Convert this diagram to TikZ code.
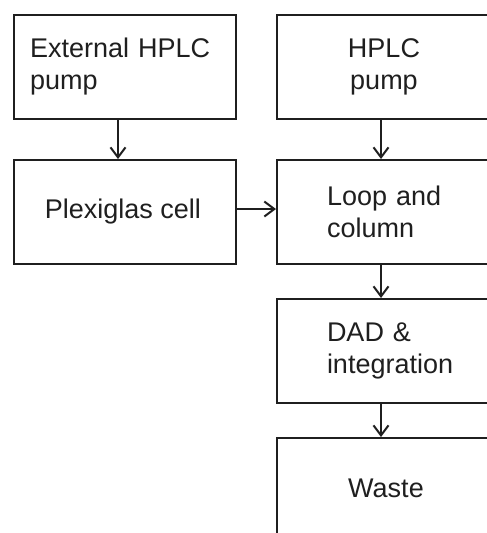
\documentclass[tikz,border=0pt]{standalone}
\usepackage{fontspec}
\setmainfont{Liberation Sans}
\usetikzlibrary{arrows.meta}
\begin{document}
\begin{tikzpicture}[x=1pt,y=-1pt,
  box/.style={draw=black!88, line width=2pt, minimum width=222pt, minimum height=104pt,
    inner sep=0pt, font=\fontsize{27}{32}\selectfont, text=black!88, anchor=north west},
  flow/.style={draw=black!88, line width=2pt, -{Straight Barb[length=10pt,width=15pt,line width=2pt]}}]
\clip (0,0) rectangle (487,533);
\fill[white] (0,0) rectangle (487,533);
\node[box, align=left, text width=190pt] (A) at (13,14) {External HPLC\\pump};
\node[box, align=center] (B) at (276,14) {\hspace*{-8pt}HPLC\\\hspace*{-8pt}pump};
\node[box] (C) at (13,159) {\hspace*{-4pt}Plexiglas cell};
\node[box, align=left, text width=122pt] (D) at (276,159) {Loop and\\column};
\node[box, align=left, text width=122pt] (E) at (276,298) {DAD \&\\integration};
\node[box, minimum height=110pt] (F) at (276,437) {\raisebox{10pt}{\hspace*{-4pt}Waste}};
\draw[flow] ([xshift=-7pt]A.south) -- ([xshift=-7pt]C.north);
\draw[flow] ([xshift=-7pt]B.south) -- ([xshift=-7pt]D.north);
\draw[flow] ([xshift=-7pt]D.south) -- ([xshift=-7pt]E.north);
\draw[flow] ([xshift=-7pt]E.south) -- ([xshift=-7pt]F.north);
\draw[flow] ([yshift=3pt]C.east) -- ([yshift=3pt]D.west);
\end{tikzpicture}
\end{document}
